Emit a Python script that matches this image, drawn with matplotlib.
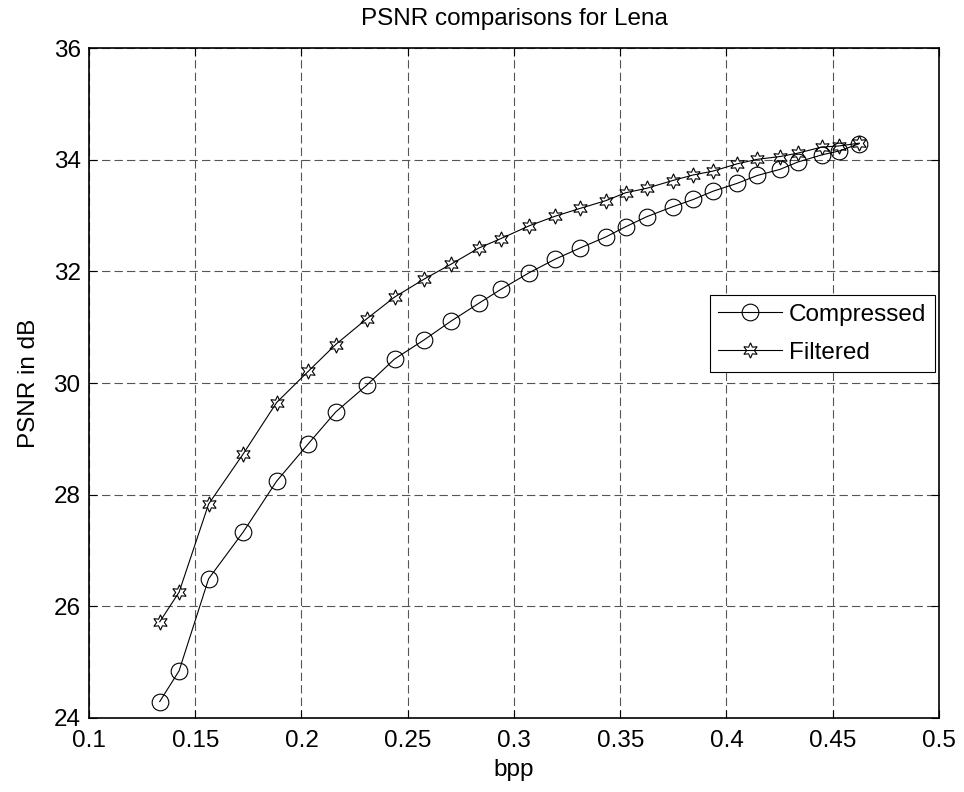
import matplotlib
matplotlib.use("Agg")
import matplotlib.pyplot as plt

plt.rcParams['font.family'] = ['Liberation Sans', 'DejaVu Sans']
plt.rcParams['lines.scale_dashes'] = False

# bpp values (shared by both curves)
bpp = [0.1333, 0.1424, 0.1563, 0.1726, 0.1883, 0.2032, 0.2161, 0.2307, 0.2438,
       0.2576, 0.2704, 0.2835, 0.2939, 0.3073, 0.3194, 0.3311, 0.3433, 0.3525,
       0.3624, 0.3747, 0.3844, 0.3938, 0.4051, 0.4145, 0.4252, 0.4335, 0.4449,
       0.4531, 0.4625]

psnr_compressed = [24.29, 24.84, 26.49, 27.33, 28.24, 28.91, 29.48, 29.96, 30.43,
                   30.77, 31.11, 31.43, 31.68, 31.98, 32.22, 32.42, 32.62, 32.80,
                   32.98, 33.16, 33.29, 33.44, 33.58, 33.72, 33.83, 33.96, 34.09,
                   34.16, 34.29]

psnr_filtered = [25.72, 26.25, 27.83, 28.73, 29.65, 30.21, 30.69, 31.15, 31.54,
                 31.86, 32.13, 32.42, 32.59, 32.82, 32.99, 33.13, 33.27, 33.41,
                 33.49, 33.63, 33.73, 33.80, 33.93, 34.01, 34.06, 34.12, 34.23,
                 34.25, 34.30]

xticks = [0.1, 0.15, 0.2, 0.25, 0.3, 0.35, 0.4, 0.45, 0.5]
yticks = [24, 26, 28, 30, 32, 34, 36]

fs = 17.5

fig = plt.figure(figsize=(9.64, 7.92), dpi=100)
ax = fig.add_axes([0.0923, 0.0938, 0.8817, 0.8452])

ax.plot(bpp, psnr_compressed, color='black', lw=0.8, marker='o', markersize=12,
        markerfacecolor='none', markeredgecolor='black', markeredgewidth=0.8,
        label='Compressed')
ax.plot(bpp, psnr_filtered, color='black', lw=0.8, marker=(6, 1, 0), markersize=11,
        markerfacecolor='none', markeredgecolor='black', markeredgewidth=0.8,
        label='Filtered')

ax.set_xlim(0.1, 0.5)
ax.set_ylim(24, 36)
ax.set_xticks(xticks)
ax.set_xticklabels([f"{t:g}" for t in xticks])
ax.set_yticks(yticks)
ax.set_yticklabels([str(t) for t in yticks])
ax.tick_params(direction='in', length=6, width=0.8, top=True, right=True,
               labelsize=fs)
ax.tick_params(axis='x', pad=9)
ax.tick_params(axis='y', pad=6)
ax.grid(True, color='#555555', linestyle=(0, (6, 3)), linewidth=0.8)
for s in ax.spines.values():
    s.set_linewidth(1.2)

ax.set_title('PSNR comparisons for Lena', fontsize=fs, pad=17)
ax.set_xlabel('bpp', fontsize=fs, labelpad=5)
ax.set_ylabel('PSNR in dB', fontsize=fs, labelpad=10)

leg = ax.legend(loc='upper right', bbox_to_anchor=(0.995, 0.631), fontsize=fs,
                fancybox=False, edgecolor='black', framealpha=1, handlelength=2.6,
                borderpad=0.35, labelspacing=0.65, handletextpad=0.3,
                borderaxespad=0)
leg.get_frame().set_linewidth(0.8)

fig.savefig('out.png', dpi=100)
